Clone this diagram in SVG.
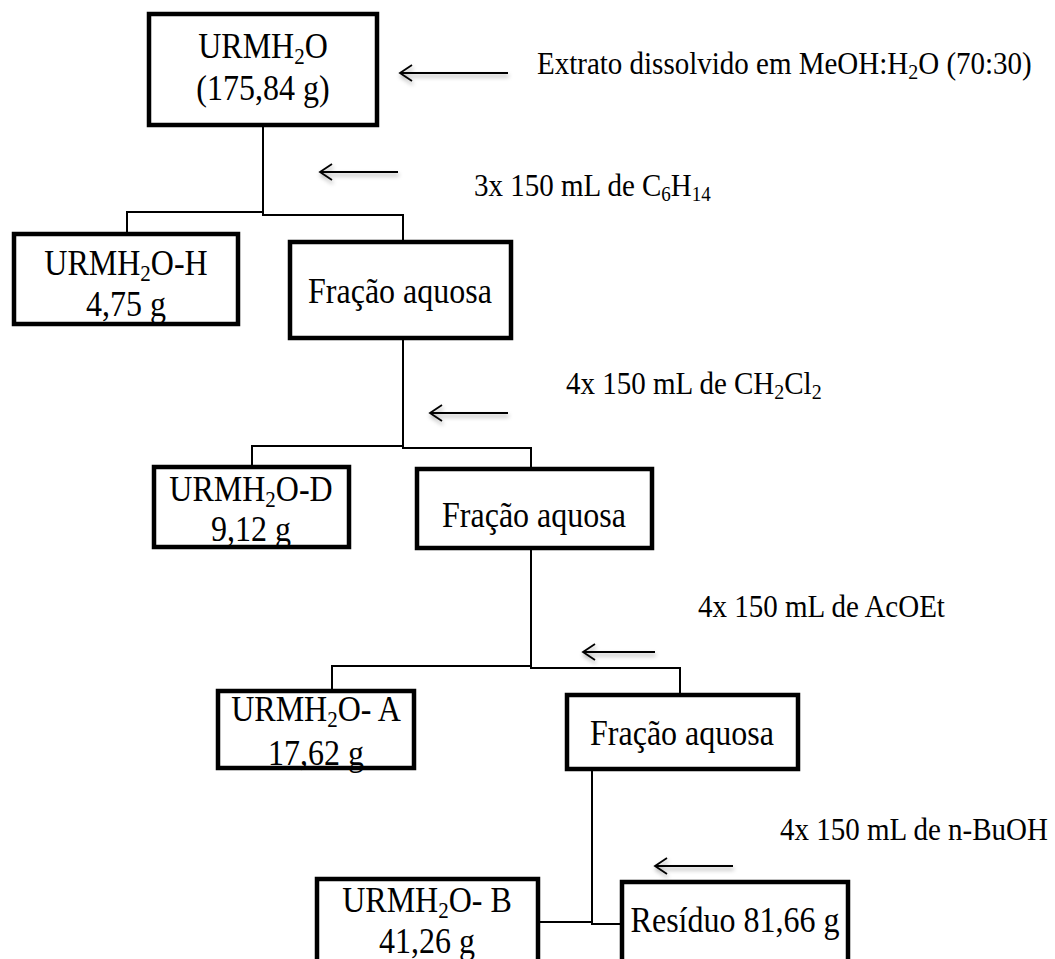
<svg xmlns="http://www.w3.org/2000/svg" width="1055" height="959" viewBox="0 0 1055 959">
<defs>
<filter id="sh" x="-20%" y="-100%" width="140%" height="300%">
<feDropShadow dx="1" dy="3" stdDeviation="2" flood-color="#000" flood-opacity="0.35"/>
</filter>
</defs>
<style>
.box{fill:#fff;stroke:#000;stroke-width:4.5}
.bt{font-family:"Liberation Serif","Times New Roman",serif;font-size:32px;fill:#000;text-anchor:middle}
.lb{font-family:"Liberation Serif","Times New Roman",serif;font-size:29px;fill:#000}
.ln{fill:none;stroke:#000;stroke-width:2}
.ar{fill:none;stroke:#000;stroke-width:1.8;filter:url(#sh)}
</style>
<rect width="1055" height="959" fill="#fff"/>
<g id="connectors">
<path class="ln" d="M263,127 V212 H127 V232 M263,212 V215 H403 V240"/>
<path class="ln" d="M403,340 V446 H252 V465 M403,446 V448 H531 V467"/>
<path class="ln" d="M531,550 V666 H332 V689 M531,666 V668 H680 V693"/>
<path class="ln" d="M592,771 V922 H540 M592,922 V924 H620"/>
<path class="ar" d="M508,73 H400 M412,65 L400,73 L412,81"/>
<path class="ar" d="M398,172 H320 M332,164 L320,172 L332,180"/>
<path class="ar" d="M508,413 H430 M442,405 L430,413 L442,421"/>
<path class="ar" d="M655,652 H583 M595,644 L583,652 L595,660"/>
<path class="ar" d="M733,866 H655 M667,858 L655,866 L667,874"/>
</g>
<g id="labels">
<text class="lb" transform="translate(537 74) scale(1 1.08)" font-size="30.5">Extrato dissolvido em MeOH:H<tspan font-size="20" dy="5">2</tspan><tspan dy="-5">O (70:30)</tspan></text>
<text class="lb" transform="translate(474 196) scale(1 1.08)" font-size="28">3x 150 mL de C<tspan font-size="19" dy="5">6</tspan><tspan dy="-5">H</tspan><tspan font-size="19" dy="5">14</tspan></text>
<text class="lb" transform="translate(566 394) scale(1 1.08)" font-size="29.5">4x 150 mL de CH<tspan font-size="20" dy="5">2</tspan><tspan dy="-5">Cl</tspan><tspan font-size="20" dy="5">2</tspan></text>
<text class="lb" transform="translate(698 617) scale(1 1.08)" font-size="30">4x 150 mL de AcOEt</text>
<text class="lb" transform="translate(780 840) scale(1 1.08)" font-size="29">4x 150 mL de n-BuOH</text>
</g>
<g id="n1">
<rect class="box" x="149" y="14" width="228" height="111"/>
<text class="bt" transform="translate(263 58) scale(1 1.1)">URMH<tspan font-size="21" dy="5">2</tspan><tspan dy="-5">O</tspan></text>
<text class="bt" transform="translate(263 100) scale(1 1.1)">(175,84 g)</text>
</g>
<g id="n2">
<rect class="box" x="14" y="234" width="224" height="90"/>
<text class="bt" transform="translate(126 275) scale(1 1.1)">URMH<tspan font-size="21" dy="5">2</tspan><tspan dy="-5">O-H</tspan></text>
<text class="bt" transform="translate(126 316) scale(1 1.1)">4,75 g</text>
</g>
<g id="n3">
<rect class="box" x="290" y="242" width="221" height="96"/>
<text class="bt" transform="translate(400 303) scale(1 1.1)">Fração aquosa</text>
</g>
<g id="n4">
<rect class="box" x="154" y="467" width="195" height="80"/>
<text class="bt" transform="translate(251 501) scale(1 1.1)">URMH<tspan font-size="21" dy="5">2</tspan><tspan dy="-5">O-D</tspan></text>
<text class="bt" transform="translate(251 541) scale(1 1.1)">9,12 g</text>
</g>
<g id="n5">
<rect class="box" x="417" y="469" width="235" height="79"/>
<text class="bt" transform="translate(534 527) scale(1 1.1)">Fração aquosa</text>
</g>
<g id="n6">
<rect class="box" x="218" y="691" width="196" height="77"/>
<text class="bt" transform="translate(316 721) scale(1 1.1)">URMH<tspan font-size="21" dy="5">2</tspan><tspan dy="-5">O- A</tspan></text>
<text class="bt" transform="translate(316 765) scale(1 1.1)">17,62 g</text>
</g>
<g id="n7">
<rect class="box" x="567" y="695" width="231" height="74"/>
<text class="bt" transform="translate(682 745) scale(1 1.1)">Fração aquosa</text>
</g>
<g id="n8">
<rect class="box" x="317" y="879" width="221" height="90"/>
<text class="bt" transform="translate(427 912) scale(1 1.1)">URMH<tspan font-size="21" dy="5">2</tspan><tspan dy="-5">O- B</tspan></text>
<text class="bt" transform="translate(427 953) scale(1 1.1)">41,26 g</text>
</g>
<g id="n9">
<rect class="box" x="622" y="882" width="226" height="90"/>
<text class="bt" transform="translate(735 932) scale(1 1.1)">Resíduo 81,66 g</text>
</g>
</svg>
